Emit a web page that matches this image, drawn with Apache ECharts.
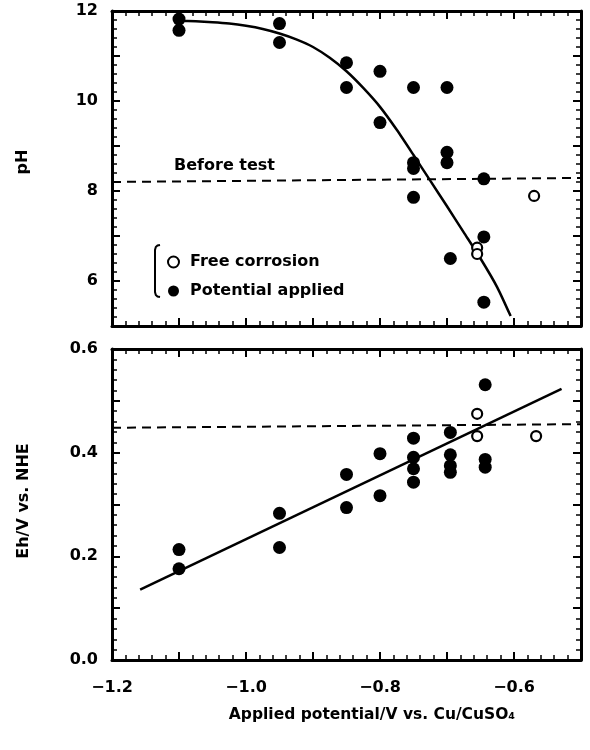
<!DOCTYPE html>
<html><head><meta charset="utf-8">
<script src="https://cdn.jsdelivr.net/npm/echarts@6/dist/echarts.min.js"></script>
<style>html,body{margin:0;padding:0;background:#fff}#c{width:590px;height:750px}</style>
</head><body><div id="c"></div>
<script>
// ---- Top panel (pH) ----
const phAppliedX = [-1.1, -1.1, -0.95, -0.95, -0.85, -0.85, -0.80, -0.80, -0.75, -0.75, -0.75, -0.75, -0.70, -0.70, -0.70, -0.695, -0.645, -0.645, -0.645];
const phAppliedY = [11.82, 11.57, 11.72, 11.30, 10.85, 10.30, 10.66, 9.52, 10.30, 8.63, 8.50, 7.86, 10.30, 8.86, 8.63, 6.50, 8.27, 6.98, 5.53];
const phFreeX = [-0.655, -0.655, -0.57];
const phFreeY = [6.74, 6.60, 7.89];
const phFitX = [-1.1, -1.075, -1.05, -1.025, -1.0, -0.975, -0.95, -0.925, -0.9, -0.875, -0.85, -0.825, -0.8, -0.775, -0.75, -0.725, -0.7, -0.675, -0.65, -0.625, -0.605];
const phFitY = [11.78, 11.77, 11.75, 11.72, 11.67, 11.60, 11.50, 11.37, 11.20, 10.96, 10.66, 10.29, 9.87, 9.36, 8.80, 8.23, 7.66, 7.08, 6.50, 5.86, 5.22];
const phBeforeX = [-1.2, -0.5];
const phBeforeY = [8.20, 8.29];
// ---- Bottom panel (Eh) ----
const ehAppliedX = [-1.1, -1.1, -0.95, -0.95, -0.85, -0.85, -0.80, -0.80, -0.75, -0.75, -0.75, -0.75, -0.695, -0.695, -0.695, -0.695, -0.643, -0.643, -0.643];
const ehAppliedY = [0.213, 0.176, 0.283, 0.217, 0.358, 0.294, 0.398, 0.317, 0.428, 0.391, 0.369, 0.343, 0.439, 0.396, 0.375, 0.362, 0.531, 0.387, 0.372];
const ehFreeX = [-0.655, -0.655, -0.567];
const ehFreeY = [0.475, 0.432, 0.432];
const ehFitX = [-1.158, -0.529];
const ehFitY = [0.136, 0.523];
const ehBeforeX = [-1.2, -0.5];
const ehBeforeY = [0.448, 0.455];
// ---- Text ----
const xTitle = 'Applied potential/V vs. Cu/CuSO\u2084';
const yTitleTop = 'pH';
const yTitleBottom = 'Eh/V vs. NHE';
const beforeLabel = 'Before test';
const legendNames = ['Free corrosion', 'Potential applied'];

const zip = (a, b) => a.map((v, i) => [v, b[i]]);
const FONT = '"DejaVu Sans", "Liberation Sans", sans-serif';

function xAx(grid, pos, labels) {
  return {
    type: 'value', gridIndex: grid, position: pos, min: -1.2, max: -0.5, interval: 0.1,
    axisLine: { show: true, onZero: false, lineStyle: { color: '#000', width: 3 } },
    axisTick: { show: true, inside: true, length: 8, lineStyle: { color: '#000', width: 2 } },
    minorTick: { show: true, splitNumber: 5, length: 5, lineStyle: { color: '#000', width: 1.5 } },
    splitLine: { show: false }, minorSplitLine: { show: false },
    axisLabel: { show: labels, margin: 20, color: '#000', fontFamily: FONT, fontWeight: 'bold', fontSize: 16,
      formatter: v => { const k = Math.round(v * 10); return k % 2 === 0 ? '\u2212' + Math.abs(v).toFixed(1) : ''; } }
  };
}
function yAx(grid, pos, labels, min, max, interval, minorSplit, fmt) {
  return {
    type: 'value', gridIndex: grid, position: pos, min: min, max: max, interval: interval,
    axisLine: { show: true, onZero: false, lineStyle: { color: '#000', width: 3 } },
    axisTick: { show: true, inside: true, length: 8, lineStyle: { color: '#000', width: 2 } },
    minorTick: { show: true, splitNumber: minorSplit, length: 5, lineStyle: { color: '#000', width: 1.5 } },
    splitLine: { show: false }, minorSplitLine: { show: false },
    axisLabel: { show: labels, margin: 14, color: '#000', fontFamily: FONT, fontWeight: 'bold', fontSize: 16, formatter: fmt }
  };
}
const fmtPH = v => (Math.round(v) % 2 === 0 ? String(Math.round(v)) : '');
const fmtEH = v => (Math.round(v * 10) % 2 === 0 ? v.toFixed(1) : '');

const filled = { type: 'scatter', symbol: 'circle', symbolSize: 13, itemStyle: { color: '#000', opacity: 1 }, z: 5 };
const open = { type: 'scatter', symbol: 'circle', symbolSize: 10, itemStyle: { color: '#fff', borderColor: '#000', borderWidth: 2.2, opacity: 1 }, z: 6 };
const fitLine = { type: 'line', showSymbol: false, symbol: 'none', lineStyle: { color: '#000', width: 2.5 }, z: 3 };
const dashLine = { type: 'line', showSymbol: false, symbol: 'none', lineStyle: { color: '#000', width: 2, type: [9, 6] }, z: 2 };

const chart = echarts.init(document.getElementById('c'), null, { renderer: 'canvas' });
chart.setOption({
  animation: false,
  backgroundColor: '#fff',
  grid: [
    { left: 112, top: 11, width: 469, height: 315 },
    { left: 112, top: 349, width: 469, height: 311 }
  ],
  xAxis: [xAx(0, 'bottom', false), xAx(0, 'top', false), xAx(1, 'bottom', true), xAx(1, 'top', false)],
  yAxis: [
    yAx(0, 'left', true, 5, 12, 1, 5, fmtPH), yAx(0, 'right', false, 5, 12, 1, 5, fmtPH),
    yAx(1, 'left', true, 0, 0.6, 0.1, 5, fmtEH), yAx(1, 'right', false, 0, 0.6, 0.1, 5, fmtEH)
  ],
  legend: {
    orient: 'vertical', left: 162, top: 249, itemWidth: 11, itemHeight: 11, itemGap: 13,
    selectedMode: false, data: legendNames,
    textStyle: { fontFamily: FONT, fontWeight: 'bold', fontSize: 16, color: '#000', padding: [0, 0, 0, 6] }
  },
  graphic: [
    { type: 'text', x: 23, y: 162, rotation: Math.PI / 2, style: { text: yTitleTop, font: 'bold 16px ' + FONT, fill: '#000', textAlign: 'center', textVerticalAlign: 'middle' } },
    { type: 'text', x: 24, y: 501, rotation: Math.PI / 2, style: { text: yTitleBottom, font: 'bold 16px ' + FONT, fill: '#000', textAlign: 'center', textVerticalAlign: 'middle' } },
    { type: 'text', x: 372, y: 715, style: { text: xTitle, font: 'bold 15.5px ' + FONT, fill: '#000', textAlign: 'center', textVerticalAlign: 'middle' } },
    { type: 'text', x: 174, y: 166, style: { text: beforeLabel, font: 'bold 16px ' + FONT, fill: '#000', textAlign: 'left', textVerticalAlign: 'middle' } },
    { type: 'polyline', shape: { points: [[160, 245], [157.5, 245.5], [155.8, 247], [155, 250], [155, 292], [155.8, 295], [157.5, 296.5], [160, 297]] }, style: { stroke: '#000', lineWidth: 2, fill: null } }
  ],
  series: [
    Object.assign({}, dashLine, { name: 'before-ph', xAxisIndex: 0, yAxisIndex: 0, data: zip(phBeforeX, phBeforeY) }),
    Object.assign({}, fitLine, { name: 'fit-ph', xAxisIndex: 0, yAxisIndex: 0, smooth: 0.2, data: zip(phFitX, phFitY) }),
    Object.assign({}, filled, { name: legendNames[1], xAxisIndex: 0, yAxisIndex: 0, data: zip(phAppliedX, phAppliedY) }),
    Object.assign({}, open, { name: legendNames[0], xAxisIndex: 0, yAxisIndex: 0, data: zip(phFreeX, phFreeY) }),
    Object.assign({}, dashLine, { name: 'before-eh', xAxisIndex: 2, yAxisIndex: 2, data: zip(ehBeforeX, ehBeforeY) }),
    Object.assign({}, fitLine, { name: 'fit-eh', xAxisIndex: 2, yAxisIndex: 2, data: zip(ehFitX, ehFitY) }),
    Object.assign({}, filled, { name: legendNames[1], xAxisIndex: 2, yAxisIndex: 2, data: zip(ehAppliedX, ehAppliedY) }),
    Object.assign({}, open, { name: legendNames[0], xAxisIndex: 2, yAxisIndex: 2, data: zip(ehFreeX, ehFreeY) })
  ]
});
</script></body></html>
